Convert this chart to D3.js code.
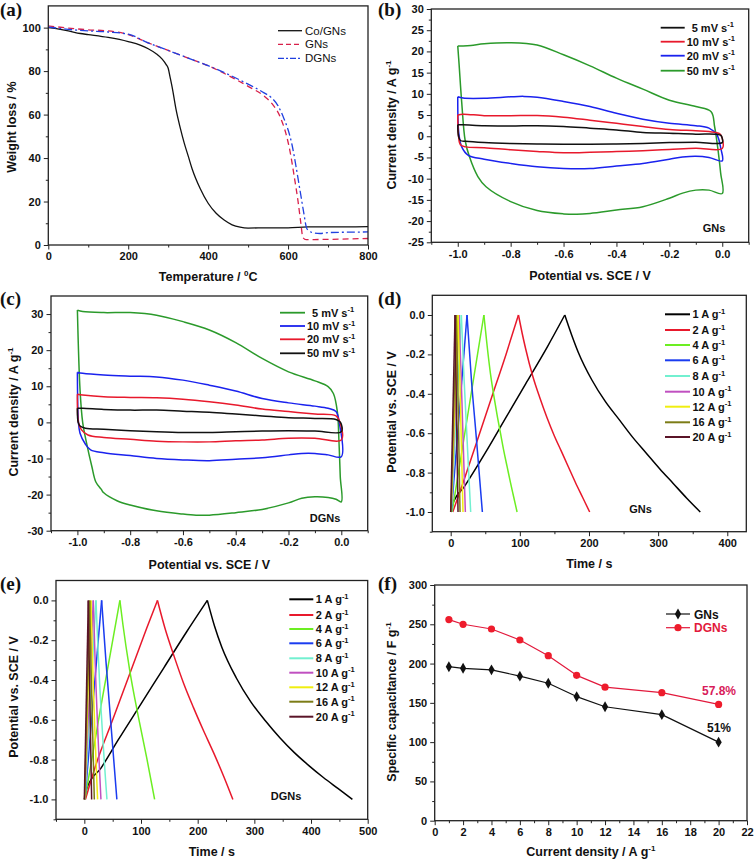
<!DOCTYPE html>
<html><head><meta charset="utf-8">
<script src="https://cdn.jsdelivr.net/npm/d3@7"></script>
<style>body{margin:0;background:#fff}svg{display:block}</style>
</head><body><svg id="c" width="756" height="861"></svg>
<script>
const FONT = '"Liberation Sans", Arial, sans-serif';
const SERIF = '"Liberation Serif", "Times New Roman", serif';

// ---------- (a) TGA ----------
const tgaSeries = ["Co/GNs", "GNs", "DGNs"];
const tgaCoGNs = [[0,100],[20,99.5],[50,98.5],[80,97.3],[100,96.8],[150,95.5],[200,93.6],[230,92],[250,90.3],[270,88],[285,85.5],[295,83],[300,81.3],[305,77],[310,72.5],[320,62],[330,54],[340,47],[350,41],[360,35],[380,26],[400,19.2],[420,14.6],[440,11.5],[460,9.3],[480,8.2],[500,7.8],[550,7.9],[600,7.9],[650,8.3],[700,8.3],[800,8.5]];
const tgaGNs = [[0,100.8],[50,99.8],[100,99],[150,98.5],[200,96.8],[250,93],[300,89.5],[350,86],[400,82.5],[450,78],[500,73],[540,68.5],[560,65],[580,59],[595,51],[605,43],[615,32],[625,20],[632,10],[637,3.5],[645,2.5],[700,2.6],[800,3]];
const tgaDGNs = [[0,100.3],[50,99.2],[100,98.5],[150,98],[200,97],[250,93],[300,89.5],[350,86],[400,82.5],[450,78.5],[500,74],[540,70],[560,67.5],[575,64],[590,58],[600,53],[610,46],[620,36],[630,25],[640,14],[646,8],[652,6.5],[660,5.8],[680,5.3],[700,5.7],[800,6]];
const tgaXTicks = [0,200,400,600,800];
const tgaYTicks = [0,20,40,60,80,100];

// ---------- (b) CV of GNs ----------
const cvLabels = ["5 mV s", "10 mV s", "20 mV s", "50 mV s"];
const cvGNs5 = [[-1,2.7],[-0.98,2.7],[-0.9,2.5],[-0.8,2.4],[-0.7,2.5],[-0.6,2.3],[-0.5,1.9],[-0.4,1.5],[-0.3,0.9],[-0.2,0.7],[-0.1,0.5],[-0.02,0.45],[-0.005,0.2],[0,-0.5],[0,-1.5],[-0.1,-1.4],[-0.2,-1.5],[-0.3,-1.7],[-0.4,-1.8],[-0.5,-1.9],[-0.6,-1.9],[-0.7,-1.8],[-0.8,-1.7],[-0.9,-1.5],[-0.97,-1.2],[-0.99,-1.0],[-0.997,0],[-1,2.7]];
const cvGNs10 = [[-1,5.0],[-0.98,5.2],[-0.9,4.85],[-0.8,4.85],[-0.7,4.9],[-0.6,4.5],[-0.5,3.8],[-0.4,3.05],[-0.3,2.3],[-0.2,1.6],[-0.1,1.3],[-0.05,1.1],[-0.01,0.6],[0,-0.5],[0,-2.9],[-0.1,-2.8],[-0.2,-3.1],[-0.3,-3.4],[-0.4,-3.6],[-0.5,-3.8],[-0.6,-3.9],[-0.7,-3.6],[-0.8,-3.2],[-0.9,-2.7],[-0.97,-2.5],[-0.99,-2.0],[-0.997,0],[-1,5.0]];
const cvGNs20 = [[-1,9.3],[-0.98,9.0],[-0.9,8.95],[-0.8,9.3],[-0.75,9.4],[-0.7,9.2],[-0.6,8.2],[-0.5,7.0],[-0.4,5.4],[-0.3,4.0],[-0.2,3.05],[-0.1,2.5],[-0.05,1.9],[-0.02,0.3],[-0.005,-3],[0,-5.8],[-0.05,-5.0],[-0.1,-4.7],[-0.15,-4.9],[-0.2,-5.4],[-0.3,-6.4],[-0.4,-7.0],[-0.5,-7.6],[-0.6,-7.6],[-0.7,-7.2],[-0.8,-6.4],[-0.9,-5.4],[-0.96,-4.5],[-0.985,-2.5],[-0.996,0.7],[-1,9.3]];
const cvGNs50 = [[-1,21.3],[-0.98,21.3],[-0.95,21.4],[-0.9,21.8],[-0.8,22.05],[-0.7,21.5],[-0.6,19.2],[-0.5,16.6],[-0.4,13.7],[-0.3,11.1],[-0.2,8.5],[-0.1,7.0],[-0.042,5.8],[-0.029,2.3],[-0.016,-3.2],[-0.006,-8.7],[0,-13.5],[-0.05,-12.7],[-0.1,-12.7],[-0.15,-13.4],[-0.2,-14.6],[-0.3,-16.6],[-0.4,-17.4],[-0.5,-18.2],[-0.55,-18.4],[-0.6,-18.3],[-0.7,-17.5],[-0.8,-15.4],[-0.893,-11.9],[-0.924,-9.5],[-0.956,-4.8],[-0.972,-1],[-0.985,8],[-0.995,17],[-1,21.3]];
const cvXTicks = [-1.0,-0.8,-0.6,-0.4,-0.2,0.0];
const cvGNsYTicks = [-25,-20,-15,-10,-5,0,5,10,15,20,25,30];

// ---------- (c) CV of DGNs ----------
const cvDGNs5 = [[-1,31.1],[-0.98,30.7],[-0.9,30.4],[-0.8,30.4],[-0.7,29.7],[-0.6,27.9],[-0.5,25.6],[-0.4,22.1],[-0.3,17.7],[-0.2,14.0],[-0.1,11.5],[-0.05,9.9],[-0.03,8],[-0.015,3],[-0.009,-5],[-0.004,-15],[0,-22],[-0.02,-21.3],[-0.05,-20.8],[-0.1,-20.6],[-0.15,-21],[-0.2,-22.3],[-0.3,-24.1],[-0.4,-25],[-0.5,-25.7],[-0.55,-25.7],[-0.6,-25.4],[-0.7,-24.5],[-0.8,-22.9],[-0.85,-21.7],[-0.9,-19.5],[-0.91,-18.5],[-0.93,-16.5],[-0.945,-12.3],[-0.965,-5.8],[-0.98,0],[-0.99,9],[-1,31.1]];
const cvDGNs10 = [[-1,13.9],[-0.98,13.6],[-0.9,13.1],[-0.8,12.8],[-0.7,12.6],[-0.6,11.7],[-0.5,10.3],[-0.4,8.7],[-0.3,6.6],[-0.2,5.4],[-0.1,4.5],[-0.05,3.9],[-0.02,3],[-0.008,0],[0,-9.5],[-0.05,-9.0],[-0.1,-8.6],[-0.15,-8.6],[-0.2,-9.0],[-0.3,-9.8],[-0.4,-10.2],[-0.5,-10.6],[-0.6,-10.4],[-0.7,-10],[-0.8,-9.2],[-0.9,-8.4],[-0.95,-7.6],[-0.97,-6],[-0.99,-3],[-0.996,0],[-1,13.9]];
const cvDGNs20 = [[-1,7.8],[-0.98,7.6],[-0.9,7.1],[-0.8,6.9],[-0.7,6.8],[-0.6,6.4],[-0.5,5.7],[-0.4,4.8],[-0.3,3.7],[-0.2,3.0],[-0.1,2.3],[-0.02,1.8],[-0.005,0],[0,-4.9],[-0.1,-4.4],[-0.2,-4.4],[-0.3,-4.9],[-0.4,-5.1],[-0.5,-5.4],[-0.6,-5.4],[-0.7,-5.2],[-0.8,-4.7],[-0.9,-4.2],[-0.96,-3.5],[-0.985,-2],[-0.996,0],[-1,7.8]];
const cvDGNs50 = [[-1,3.9],[-0.98,3.9],[-0.9,3.6],[-0.8,3.4],[-0.7,3.4],[-0.6,3.1],[-0.5,2.8],[-0.4,2.3],[-0.3,1.8],[-0.2,1.3],[-0.1,1.1],[-0.02,0.8],[-0.003,0],[0,-2.6],[-0.1,-2.4],[-0.2,-2.3],[-0.3,-2.4],[-0.4,-2.6],[-0.5,-2.8],[-0.6,-2.8],[-0.7,-2.6],[-0.8,-2.3],[-0.9,-1.9],[-0.97,-1.6],[-0.99,-1.0],[-0.997,0],[-1,3.9]];
const cvDGNsYTicks = [-30,-20,-10,0,10,20,30];

// ---------- (d) GCD of GNs ----------
const gcdLabels = ["1 A g", "2 A g", "4 A g", "6 A g", "8 A g", "10 A g", "12 A g", "16 A g", "20 A g"];
const gcdGNs1 = [[0,-1],[3,-0.96],[20,-0.87],[50,-0.7],[80,-0.52],[110,-0.34],[140,-0.16],[165,0],[174.8,-0.1],[184.6,-0.19],[204.2,-0.33],[223.8,-0.44],[243.4,-0.53],[263,-0.62],[282.6,-0.7],[302.2,-0.78],[321.8,-0.855],[341.4,-0.93],[361,-1]];
const gcdGNs2 = [[3,-1],[20,-0.83],[40,-0.62],[60,-0.41],[80,-0.2],[98,0],[103.2,-0.09],[108.3,-0.17],[118.6,-0.31],[128.9,-0.42],[139.2,-0.52],[149.5,-0.61],[159.8,-0.69],[170.1,-0.77],[180.4,-0.85],[190.7,-0.925],[201,-1]];
const gcdGNs4 = [[2,-1],[25,-0.5],[48,0],[50.4,-0.08],[52.8,-0.16],[57.6,-0.3],[62.4,-0.41],[67.2,-0.51],[72,-0.6],[76.8,-0.69],[81.6,-0.77],[86.4,-0.85],[91.2,-0.925],[96,-1]];
const gcdGNs6 = [[1,-1],[23.6,0],[30,-0.33],[37,-0.62],[45.8,-1]];
const gcdGNs8 = [[1,-1],[15.4,0],[19,-0.3],[28.9,-1]];
const gcdGNs10 = [[0.5,-1],[12,0],[15,-0.3],[21.2,-1]];
const gcdGNs12 = [[0.5,-1],[10.6,0],[13,-0.3],[17.8,-1]];
const gcdGNs16 = [[0.5,-1],[8.2,0],[10,-0.3],[13.5,-1]];
const gcdGNs20 = [[0,-1],[6.3,0],[7.5,-0.3],[10.6,-1]];
const gcdGNsXTicks = [0,100,200,300,400];
const gcdYTicks = [-1.0,-0.8,-0.6,-0.4,-0.2,0.0];

// ---------- (e) GCD of DGNs ----------
const gcdDGNs1 = [[0,-1],[5,-0.94],[30,-0.84],[60,-0.7],[100,-0.52],[140,-0.34],[180,-0.16],[217,0],[229.8,-0.13],[242.6,-0.235],[268.2,-0.39],[293.8,-0.51],[319.4,-0.605],[345,-0.69],[370.6,-0.765],[396.2,-0.83],[421.8,-0.89],[447.4,-0.945],[473,-1]];
const gcdDGNs2 = [[2,-1],[20,-0.83],[50,-0.6],[80,-0.37],[110,-0.14],[129,0],[142.3,-0.14],[158.3,-0.28],[175.6,-0.42],[192.8,-0.54],[208.8,-0.645],[228.8,-0.77],[246,-0.885],[262,-1]];
const gcdDGNs4 = [[1,-1],[30,-0.52],[62.7,0],[68,-0.12],[80,-0.35],[95,-0.58],[110,-0.79],[124,-1]];
const gcdDGNs6 = [[1,-1],[30.5,0],[38,-0.3],[57.4,-1]];
const gcdDGNs8 = [[1,-1],[20.5,0],[25,-0.3],[39.9,-1]];
const gcdDGNs10 = [[0.5,-1],[15.8,0],[19,-0.3],[29.3,-1]];
const gcdDGNs12 = [[0.5,-1],[11.7,0],[14.5,-0.3],[23.4,-1]];
const gcdDGNs16 = [[0.5,-1],[9.4,0],[11.5,-0.3],[17.6,-1]];
const gcdDGNs20 = [[0,-1],[7,0],[8.5,-0.3],[12.9,-1]];
const gcdDGNsXTicks = [0,100,200,300,400,500];

// ---------- (f) Specific capacitance ----------
const currentDensity = [1,2,4,6,8,10,12,16,20];
const capGNs = [196,194,192,184,175,158,145,135,100];
const capDGNs = [256,250,244,230,210,185,170,163,148];
const capXTicks = [0,2,4,6,8,10,12,14,16,18,20,22];
const capYTicks = [0,50,100,150,200,250,300];

// ---------- colours ----------
const cvColors4 = {black:"#111111", red:"#e8192c", blue:"#1a22ee", green:"#2b9a2b"};
const gcdColors = ["#000000","#e8192c","#6cee22","#1a3cf0","#72f0d0","#c050c0","#f0ee10","#7c7c16","#5a1428"];
const dgnRed = "#e2193c";

// ---------- drawing ----------
const svg = d3.select("#c");
const f1 = v => v.toFixed(1);
const fi = v => String(v);

function makePanel(o) {
  const x = d3.scaleLinear().domain(o.xd).range([o.L, o.R]);
  const y = d3.scaleLinear().domain(o.yd).range([o.B, o.T]);
  const g = svg.append("g");
  const ax = (gen, tr) => {
    const a = g.append("g").attr("transform", tr).call(gen);
    a.select(".domain").remove();
    a.attr("font-size", 11).attr("font-weight", "bold").attr("font-family", FONT);
    a.selectAll("line").attr("stroke", "#222").attr("stroke-width", 1);
    a.selectAll("text").attr("fill", "#111");
    return a;
  };
  ax(d3.axisBottom(x).tickValues(o.xMinor).tickSize(2.5).tickFormat(""), `translate(0,${o.B})`).selectAll("text").remove();
  ax(d3.axisBottom(x).tickValues(o.xMajor).tickSize(4.5).tickPadding(3).tickFormat(o.xf), `translate(0,${o.B})`);
  ax(d3.axisLeft(y).tickValues(o.yMinor).tickSize(2.5).tickFormat(""), `translate(${o.L},0)`).selectAll("text").remove();
  ax(d3.axisLeft(y).tickValues(o.yMajor).tickSize(4.5).tickPadding(3).tickFormat(o.yf), `translate(${o.L},0)`);
  const plot = g.append("g");
  g.append("rect").attr("x", o.L).attr("y", o.T).attr("width", o.R - o.L).attr("height", o.B - o.T)
    .attr("fill", "none").attr("stroke", "#222").attr("stroke-width", 1.3);
  svg.append("text").attr("x", o.lx).attr("y", o.ly).attr("font-family", SERIF).attr("font-weight", "bold")
    .attr("font-size", 19).attr("fill", "#111").text(o.letter);
  const xt = svg.append("text").attr("x", (o.L + o.R) / 2).attr("y", o.xty).attr("text-anchor", "middle")
    .attr("font-family", FONT).attr("font-weight", "bold").attr("font-size", 12.5).attr("fill", "#111");
  addParts(xt, o.xTitle);
  const yt = svg.append("text").attr("transform", `translate(${o.ytx},${o.yty}) rotate(-90)`).attr("text-anchor", "middle")
    .attr("font-family", FONT).attr("font-weight", "bold").attr("font-size", 12.5).attr("fill", "#111");
  addParts(yt, o.yTitle);
  return {x, y, plot, g};
}
function addParts(t, parts) {
  parts.forEach(p => {
    if (typeof p === "string") t.append("tspan").text(p);
    else {
      t.append("tspan").attr("dy", -5).attr("font-size", 8).text(p.sup);
      if (p.after) t.append("tspan").attr("dy", 5).text(p.after);
    }
  });
}
function drawLine(p, data, color, w, dash, curve) {
  const ln = d3.line().x(d => p.x(d[0])).y(d => p.y(d[1])).curve(curve || d3.curveLinear);
  p.plot.append("path").datum(data).attr("d", ln).attr("fill", "none").attr("stroke", color)
    .attr("stroke-width", w).attr("stroke-linejoin", "round").attr("stroke-dasharray", dash || null);
}
function drawGCD(p, data, color) {
  const iPeak = d3.maxIndex(data, d => d[1]);
  drawLine(p, data.slice(0, iPeak + 1), color, 1.5, null, d3.curveMonotoneX);
  drawLine(p, data.slice(iPeak), color, 1.5, null, d3.curveMonotoneX);
}
const cvCurve = d3.curveCatmullRom.alpha(0.5);
function legendItem(x1, x2, y, color, label, opts) {
  opts = opts || {};
  svg.append("line").attr("x1", x1).attr("x2", x2).attr("y1", y).attr("y2", y).attr("stroke", color)
    .attr("stroke-width", opts.w || 1.8).attr("stroke-dasharray", opts.dash || null);
  const t = svg.append("text").attr("x", x2 + (opts.gap || 3)).attr("y", y + 4).attr("font-family", FONT)
    .attr("font-weight", opts.regular ? "normal" : "bold").attr("font-size", opts.size || 11).attr("fill", opts.textColor || "#111");
  t.append("tspan").text(label);
  if (opts.sup) { t.append("tspan").attr("dy", -4.5).attr("font-size", 7.5).text(opts.sup); }
}
const minors = (a, b, s) => d3.range(a, b + s / 2, s);

// (a)
const pa = makePanel({L:48.3,R:368,T:5.9,B:245,xd:[0,800],yd:[0,110],
  xMajor:tgaXTicks,xMinor:minors(100,700,200),yMajor:tgaYTicks,yMinor:minors(10,90,20),xf:fi,yf:fi,
  letter:"(a)",lx:0,ly:16,xty:281,ytx:16,yty:127,
  xTitle:["Temperature / ",{sup:"0",after:"C"}],yTitle:["Weight loss / %"]});
drawLine(pa, tgaCoGNs, "#111", 1.3, null, d3.curveMonotoneX);
drawLine(pa, tgaGNs, "#d8204a", 1.3, "6,4", d3.curveMonotoneX);
drawLine(pa, tgaDGNs, "#2040e0", 1.3, "8,3,2,3", d3.curveMonotoneX);
legendItem(278,302,30.7,"#111",tgaSeries[0],{regular:true,size:11.5,w:1.3});
legendItem(278,302,44.3,"#d8204a",tgaSeries[1],{regular:true,size:11.5,w:1.3,dash:"5,3"});
legendItem(278,302,58.3,"#2040e0",tgaSeries[2],{regular:true,size:11.5,w:1.3,dash:"6,2,2,2"});

// (b)
const pb = makePanel({L:431.3,R:748.7,T:9,B:242.3,xd:[-1.1,0.1],yd:[-25,30],
  xMajor:cvXTicks,xMinor:minors(-1.1,0.1,0.2),yMajor:cvGNsYTicks,yMinor:minors(-22.5,27.5,5),xf:f1,yf:fi,
  letter:"(b)",lx:378,ly:16,xty:280,ytx:395.5,yty:125,
  xTitle:["Potential vs. SCE / V"],yTitle:["Current density / A g",{sup:"-1"}]});
drawLine(pb, cvGNs50, cvColors4.green, 1.5, null, cvCurve);
drawLine(pb, cvGNs20, cvColors4.blue, 1.5, null, cvCurve);
drawLine(pb, cvGNs10, cvColors4.red, 1.5, null, cvCurve);
drawLine(pb, cvGNs5, cvColors4.black, 1.5, null, cvCurve);
[[cvColors4.black,27.7,6],[cvColors4.red,41.7,1],[cvColors4.blue,55.7,1],[cvColors4.green,70.7,1]].forEach((c,i)=>
  legendItem(660.7,684.7,c[1],c[0],cvLabels[i],{sup:"-1",gap:c[2]+1}));
svg.append("text").attr("x",714).attr("y",232).attr("text-anchor","middle").attr("font-family",FONT).attr("font-weight","bold").attr("font-size",11).attr("fill","#111").text("GNs");

// (c)
const pc = makePanel({L:51,R:367.7,T:296,B:530.7,xd:[-1.1,0.1],yd:[-30,35],
  xMajor:cvXTicks,xMinor:minors(-1.1,0.1,0.2),yMajor:cvDGNsYTicks,yMinor:minors(-25,25,10),xf:f1,yf:fi,
  letter:"(c)",lx:0,ly:305,xty:569,ytx:17.5,yty:412,
  xTitle:["Potential vs. SCE / V"],yTitle:["Current density / A g",{sup:"-1"}]});
drawLine(pc, cvDGNs5, cvColors4.green, 1.5, null, cvCurve);
drawLine(pc, cvDGNs10, cvColors4.blue, 1.5, null, cvCurve);
drawLine(pc, cvDGNs20, cvColors4.red, 1.5, null, cvCurve);
drawLine(pc, cvDGNs50, cvColors4.black, 1.5, null, cvCurve);
[[cvColors4.green,312.7,6],[cvColors4.blue,326,1],[cvColors4.red,339.3,1],[cvColors4.black,353.3,1]].forEach((c,i)=>
  legendItem(280,305,c[1],c[0],cvLabels[i],{sup:"-1",gap:c[2]+1}));
svg.append("text").attr("x",325).attr("y",522).attr("text-anchor","middle").attr("font-family",FONT).attr("font-weight","bold").attr("font-size",11).attr("fill","#111").text("DGNs");

// (d)
const pd = makePanel({L:432.3,R:746.3,T:295.3,B:531.7,xd:[-26.6,427.5],yd:[-1.1,0.1],
  xMajor:gcdGNsXTicks,xMinor:minors(50,350,100),yMajor:gcdYTicks,yMinor:minors(-1.1,-0.1,0.2),xf:fi,yf:f1,
  letter:"(d)",lx:378,ly:305,xty:568,ytx:395.5,yty:412,
  xTitle:["Time / s"],yTitle:["Potential vs. SCE / V"]});
[gcdGNs1,gcdGNs2,gcdGNs4,gcdGNs6,gcdGNs8,gcdGNs10,gcdGNs12,gcdGNs16,gcdGNs20].forEach((d,i)=>drawGCD(pd,d,gcdColors[i]));
[314.3,330,345,360.3,376,391.7,406.7,422.3,437].forEach((yy,i)=>legendItem(665,690,yy,gcdColors[i],gcdLabels[i],{sup:"-1",gap:2.5,w:2}));
svg.append("text").attr("x",640.5).attr("y",513).attr("text-anchor","middle").attr("font-family",FONT).attr("font-weight","bold").attr("font-size",11).attr("fill","#111").text("GNs");

// (e)
const pe = makePanel({L:56,R:367.7,T:580.5,B:819.3,xd:[-50,500],yd:[-1.1,0.1],
  xMajor:gcdDGNsXTicks,xMinor:minors(-50,450,100),yMajor:gcdYTicks,yMinor:minors(-1.1,-0.1,0.2),xf:fi,yf:f1,
  letter:"(e)",lx:0,ly:590,xty:856,ytx:17.5,yty:697,
  xTitle:["Time / s"],yTitle:["Potential vs. SCE / V"]});
[gcdDGNs1,gcdDGNs2,gcdDGNs4,gcdDGNs6,gcdDGNs8,gcdDGNs10,gcdDGNs12,gcdDGNs16,gcdDGNs20].forEach((d,i)=>drawGCD(pe,d,gcdColors[i]));
[599.3,615,629,643.3,658.3,672.7,687.3,701.7,716.7].forEach((yy,i)=>legendItem(289.3,313.3,yy,gcdColors[i],gcdLabels[i],{sup:"-1",gap:2.5,w:2}));
svg.append("text").attr("x",286).attr("y",800).attr("text-anchor","middle").attr("font-family",FONT).attr("font-weight","bold").attr("font-size",11).attr("fill","#111").text("DGNs");

// (f)
const pf = makePanel({L:434.7,R:747,T:585,B:820.7,xd:[0,22],yd:[0,300],
  xMajor:capXTicks,xMinor:minors(1,21,2),yMajor:capYTicks,yMinor:minors(25,275,50),xf:fi,yf:fi,
  letter:"(f)",lx:378,ly:590,xty:856,ytx:395.5,yty:702,
  xTitle:["Current density / A g",{sup:"-1"}],yTitle:["Specific capacitance / F g",{sup:"-1"}]});
const gnsPts = currentDensity.map((c,i)=>[c,capGNs[i]]);
const dgnsPts = currentDensity.map((c,i)=>[c,capDGNs[i]]);
drawLine(pf, gnsPts, "#111", 1.2);
drawLine(pf, dgnsPts, dgnRed, 1.2);
pf.plot.selectAll(".dia").data(gnsPts).join("path").attr("d", d3.symbol(d3.symbolDiamond, 34))
  .attr("transform", d=>`translate(${pf.x(d[0])},${pf.y(d[1])})`).attr("fill","#111");
pf.plot.selectAll(".cir").data(dgnsPts).join("circle").attr("cx", d=>pf.x(d[0])).attr("cy", d=>pf.y(d[1])).attr("r",3.6).attr("fill","#ee1c2c");
svg.append("line").attr("x1",666).attr("x2",690).attr("y1",614).attr("y2",614).attr("stroke","#111").attr("stroke-width",1.2);
svg.append("path").attr("d",d3.symbol(d3.symbolDiamond,34)).attr("transform","translate(678,614)").attr("fill","#111");
svg.append("text").attr("x",694).attr("y",618.5).attr("font-family",FONT).attr("font-weight","bold").attr("font-size",12).attr("fill","#111").text("GNs");
svg.append("line").attr("x1",666).attr("x2",690).attr("y1",627.7).attr("y2",627.7).attr("stroke",dgnRed).attr("stroke-width",1.2);
svg.append("circle").attr("cx",678).attr("cy",627.7).attr("r",3.6).attr("fill","#ee1c2c");
svg.append("text").attr("x",694).attr("y",632).attr("font-family",FONT).attr("font-weight","bold").attr("font-size",12).attr("fill",dgnRed).text("DGNs");
svg.append("text").attr("x",719).attr("y",695).attr("text-anchor","middle").attr("font-family",FONT).attr("font-weight","bold").attr("font-size",12).attr("fill","#d81b5a").text("57.8%");
svg.append("text").attr("x",719).attr("y",732).attr("text-anchor","middle").attr("font-family",FONT).attr("font-weight","bold").attr("font-size",12).attr("fill","#111").text("51%");
</script></body></html>
